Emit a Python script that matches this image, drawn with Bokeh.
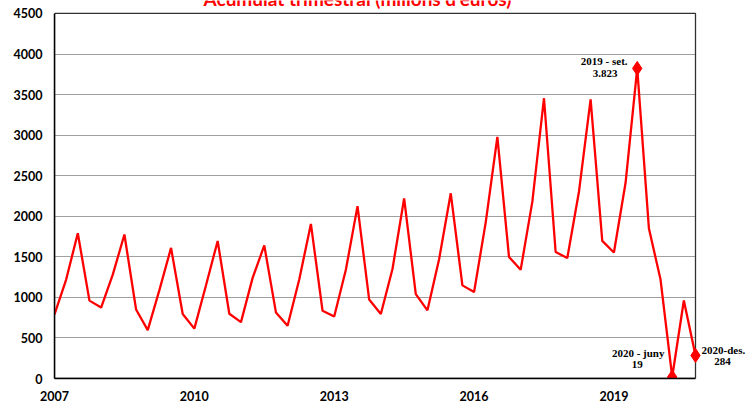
from bokeh.plotting import figure
from bokeh.models import Label, Range1d, FixedTicker, ColumnDataSource
from bokeh.embed import file_html
from bokeh.resources import INLINE

title_text = "Acumulat trimestral (milions d'euros)"
years = ["2007", "2010", "2013", "2016", "2019"]
values = [790, 1220, 1790, 960,
          875, 1280, 1775, 850,
          597, 1090, 1610, 795,
          615, 1150, 1695, 798,
          695, 1240, 1640, 815,
          650, 1220, 1905, 835,
          765, 1340, 2125, 973,
          795, 1350, 2220, 1040,
          840, 1470, 2283, 1148,
          1065, 1925, 2978, 1497,
          1341, 2180, 3455, 1559,
          1485, 2303, 3440, 1697,
          1554, 2413, 3823, 1853,
          1219, 19, 961, 284]
y_ticks = [0, 500, 1000, 1500, 2000, 2500, 3000, 3500, 4000, 4500]
marked = [50, 53, 55]
marked_names = ["2019 - set.", "2020 - juny", "2020-des."]

idx = list(range(len(values)))

# layout (pixels)
W, H = 747, 403
LEFT, RIGHT, TOP, BOTTOM = 54, 695, 13, 379
x0, x1 = idx[0], idx[-1]
y0, y1 = y_ticks[0], y_ticks[-1]
xs = (RIGHT - LEFT) / (x1 - x0)
ys = (BOTTOM - TOP) / (y1 - y0)

p = figure(width=W, height=H, output_backend="svg", toolbar_location=None,
           x_range=Range1d(x0, x1 + (W - RIGHT) / xs),
           y_range=Range1d(y0, y1 + TOP / ys),
           min_border_left=LEFT, min_border_right=0, min_border_top=0,
           min_border_bottom=H - BOTTOM)
p.background_fill_color = "white"
p.border_fill_color = "white"
p.outline_line_color = None

p.xgrid.visible = False
p.ygrid.grid_line_color = "#a0a0a0"
p.ygrid.grid_line_width = 1
p.ygrid.ticker = FixedTicker(ticks=y_ticks[1:-1])
p.ygrid.cross_bounds = (x0, x1)

for ax in (p.xaxis[0], p.yaxis[0]):
    ax.axis_line_color = "black"
    ax.axis_line_width = 1.5
    ax.major_tick_out = 0
    ax.major_tick_in = 0
    ax.minor_tick_out = 0
    ax.minor_tick_in = 0
    ax.major_label_text_font = "Lato"
    ax.major_label_text_font_style = "bold"
    ax.major_label_text_font_size = "12.5px"
    ax.major_label_text_color = "black"
p.yaxis.major_label_standoff = 12
p.xaxis.major_label_standoff = 12
p.yaxis.bounds = (y0, y1)
p.xaxis.bounds = (x0, x1)

p.yaxis.ticker = FixedTicker(ticks=y_ticks)
p.xaxis.ticker = FixedTicker(ticks=[idx[i * 12] for i in range(len(years))])
p.xaxis.major_label_overrides = {idx[i * 12]: years[i] for i in range(len(years))}

# plot-area box (top and right edges)
p.quad(left=[x0], right=[x1], bottom=[y0], top=[y1], fill_color=None,
       line_color="#303030", line_width=1.3)

src = ColumnDataSource(dict(x=idx, y=values))
p.line("x", "y", source=src, line_color="#ff0000", line_width=2.3)
p.scatter([idx[i] for i in marked], [values[i] for i in marked], marker="diamond",
          size=14, fill_color="#ff0000", line_color="#ff0000")

def fmt(v):
    return f"{v:,}".replace(",", ".")

ann_font = "Liberation Serif"
offs = [(-33, 7, -32, -5, "center"),
        (-34, 24, -35, 12, "center"),
        (6, 5.5, 27, -6, "left")]
for k, i in enumerate(marked):
    ox, oy, vx, vy, al = offs[k]
    p.add_layout(Label(x=idx[i], y=values[i], x_offset=ox, y_offset=oy, text=marked_names[k],
                       text_font=ann_font, text_font_style="bold", text_font_size="11px",
                       text_align=al, text_baseline="middle", text_color="black"))
    p.add_layout(Label(x=idx[i], y=values[i], x_offset=vx, y_offset=vy, text=fmt(values[i]),
                       text_font=ann_font, text_font_style="bold", text_font_size="11px",
                       text_align="center", text_baseline="middle", text_color="black"))

p.add_layout(Label(x=x0 + (357 - LEFT) / xs, y=y1 + (TOP - 5) / ys, y_offset=7,
                   text=title_text, text_font="Lato", text_font_style="bold",
                   text_font_size="19px", text_color="#ff0000", text_align="center",
                   text_baseline="alphabetic"))

open("out.html", "w").write(file_html(p, INLINE))
